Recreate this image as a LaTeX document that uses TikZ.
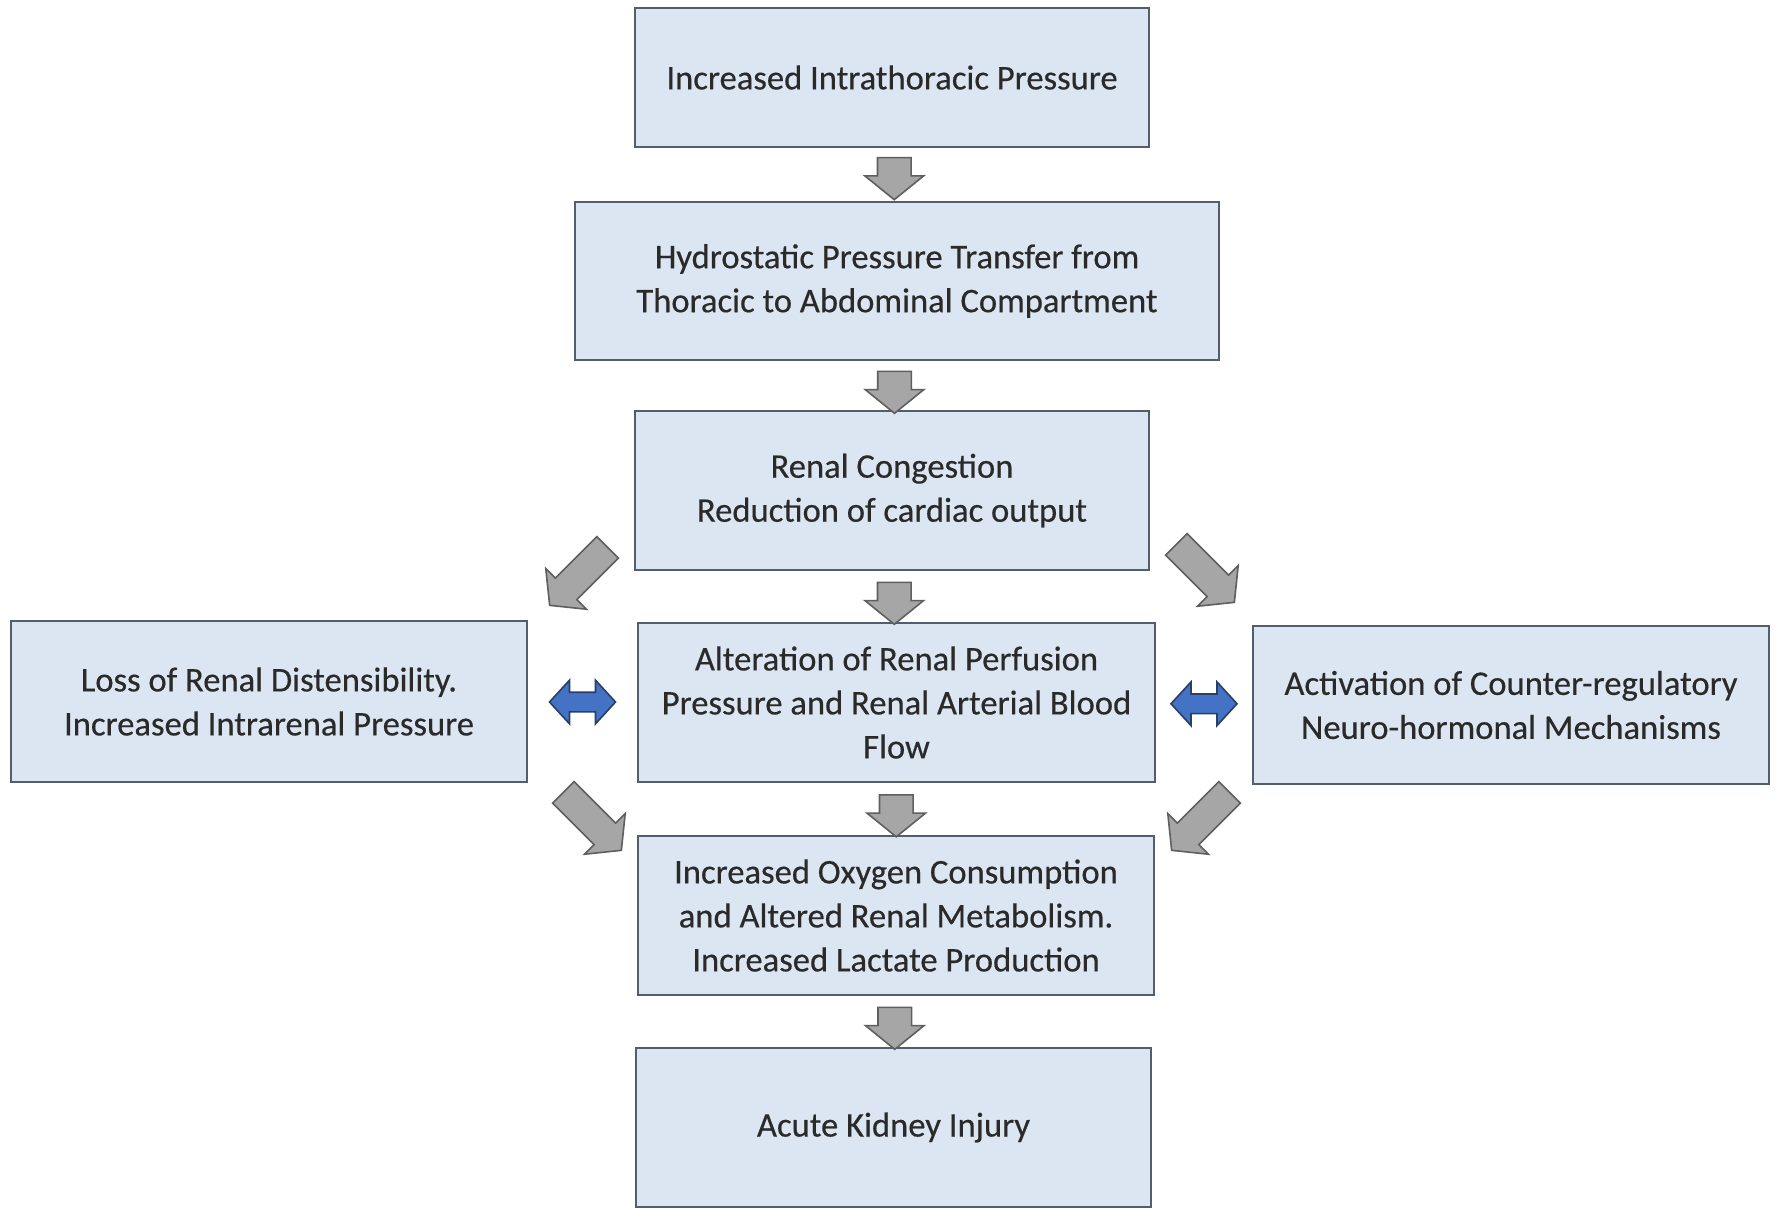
\documentclass[tikz,border=0pt]{standalone}
\usepackage{fontspec}
\setmainfont{Carlito}
\newfontfamily\boxfont{Carlito}[FakeBold=0.4]
\usetikzlibrary{shapes.arrows,calc}
\definecolor{boxfill}{HTML}{DCE6F2}
\definecolor{boxline}{HTML}{525E6B}
\definecolor{txt}{HTML}{2A2A2A}
\definecolor{grayarrow}{HTML}{A6A6A6}
\definecolor{grayedge}{HTML}{5F5F5F}
\definecolor{bluearrow}{HTML}{4472C4}
\definecolor{blueedge}{HTML}{2A3F66}
\begin{document}
\begin{tikzpicture}[x=0.5pt,y=-0.5pt,
  stepbox/.style={draw=boxline, line width=1.2pt, fill=boxfill, text=txt,
    align=center, inner sep=0pt,
    font=\boxfont\fontsize{17.3}{22}\selectfont},
  flowarrow/.style={single arrow, draw=grayedge, fill=grayarrow, line width=0.8pt,
    inner xsep=0pt, inner ysep=8pt, minimum height=21pt,
    single arrow head extend=6.25pt, single arrow tip angle=102},
  diagarrow/.style={flowarrow, inner ysep=7.2pt, minimum height=41pt,
    single arrow head extend=6.8pt},
  linkarrow/.style={double arrow, draw=blueedge, fill=bluearrow, line width=0.8pt,
    inner xsep=0pt, inner ysep=4.5pt, minimum height=33pt,
    double arrow head extend=6pt, double arrow tip angle=95}]
\useasboundingbox (0,0) rectangle (1777,1210);
\fill[white] (0,0) rectangle (1777,1210);

% process boxes
\node[stepbox, minimum width=257pt, minimum height=69.5pt] (b1) at (892,77.5)
  {Increased Intrathoracic Pressure};
\node[stepbox, minimum width=322pt, minimum height=79pt] (b2) at (897,281)
  {Hydrostatic Pressure Transfer from\\Thoracic to Abdominal Compartment};
\node[stepbox, minimum width=257pt, minimum height=79.5pt] (b3) at (892,490.5)
  {Renal Congestion\\Reduction of cardiac output};
\node[stepbox, minimum width=258.5pt, minimum height=79.5pt] (b4) at (896.5,702.5)
  {Alteration of Renal Perfusion\\Pressure and Renal Arterial Blood\\Flow};
\node[stepbox, minimum width=258pt, minimum height=80.5pt] (left) at (269,701.5)
  {Loss of Renal Distensibility.\\Increased Intrarenal Pressure};
\node[stepbox, minimum width=258pt, minimum height=79pt] (right) at (1511,705)
  {Activation of Counter-regulatory\\Neuro-hormonal Mechanisms};
\node[stepbox, minimum width=258pt, minimum height=79.5pt] (b5) at (896,915.5)
  {Increased Oxygen Consumption\\and Altered Renal Metabolism.\\Increased Lactate Production};
\node[stepbox, minimum width=257.5pt, minimum height=79.5pt] (b6) at (893.5,1127.5)
  {Acute Kidney Injury};

% downward block arrows between consecutive boxes
\node[flowarrow, rotate=-90] (a1) at ($(b1.south)!0.45!(b2.north)$) {};
\node[flowarrow, rotate=-90] (a2) at ($(b2.south)!0.5!(b3.north)$) {};
\node[flowarrow, rotate=-90] (a3) at ($(b3.south)!0.5!(b4.north)$) {};
\node[flowarrow, rotate=-90] (a4) at ($(b4.south)!0.5!(b5.north)$) {};
\node[flowarrow, rotate=-90] (a5) at ($(b5.south)!0.5!(b6.north)$) {};

% diagonal block arrows
\node[diagarrow, rotate=-135] (d1) at (583,572) {};
\node[diagarrow, rotate=-45] (d2) at (1201,569) {};
\node[diagarrow, rotate=-45] (d3) at (588,817) {};
\node[diagarrow, rotate=-135] (d4) at (1205,817) {};

% two-way links to the side boxes
\node[linkarrow] (l1) at ($(left.east)!0.5!(b4.west)$) {};
\node[linkarrow] (l2) at ($(b4.east)!0.5!(right.west)$) {};
\end{tikzpicture}
\end{document}
